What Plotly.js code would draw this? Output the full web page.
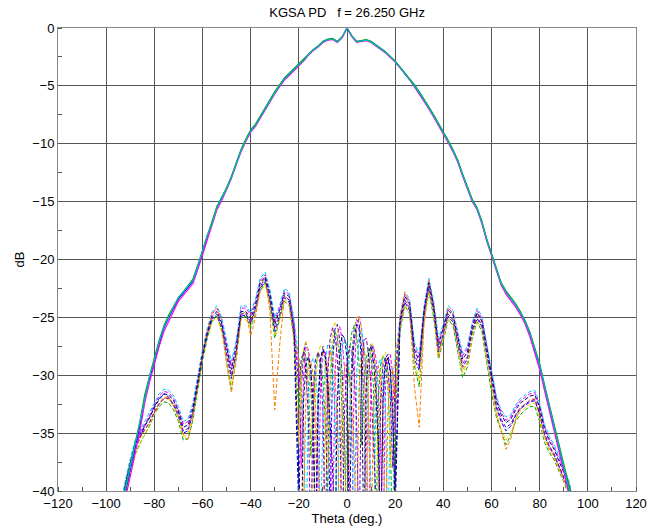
<!DOCTYPE html>
<html>
<head>
<meta charset="utf-8">
<script src="https://cdn.plot.ly/plotly-3.0.1.min.js"></script>
<style>html,body{margin:0;padding:0;background:#fff;}#chart{width:663px;height:530px;}</style>
</head>
<body>
<div id="chart"></div>
<script>
// Theta grid (deg.) for co-polar cuts
const thetaCoLeft  = [-96,-94,-92,-90,-88,-86,-84,-82,-80,-78,-76,-74,-72,-70,-68,-66,-64,-62,-60,-58,-56,-54,-52,-50,-48,-46,-44,-42,-40,-38,-36,-34,-32,-30,-28,-26,-24,-22];
const thetaCoMid   = [-20,-18,-16,-14,-12,-10,-8,-6,-4,-2,0,2,4,6,8,10,12,14,16,18,20];
const thetaRight   = [22,24,26,28,30,32,34,36,38,40,42,44,46,48,50,52,54,56,58,60,62,64,66,68,70,72,74,76,78,80,82,84,86,88,90,92,94,96];
// Theta grid for cross-polar cuts (finer in the main-beam region)
const thetaXpMid   = [-20,-19,-18,-17,-16,-15,-14,-13,-12,-11,-10,-9,-8,-7,-6,-5,-4,-3,-2,-1,0,1,2,3,4,5,6,7,8,9,10,11,12,13,14,15,16,17,18,19,20];

// Co-polar cuts (dB)
const co1 = [
  -44,-42,-40.3,-38.3,-36.2,-34.4,-32.0,-30.3,-28.8,-27.2,-25.9,-25.0,-24.2,-23.4,-22.9,-22.4,-21.9,-20.7,-19.5,-18.0,-16.9,-15.5,-14.7,-13.9,-12.9,-11.7,-10.6,-9.7,-8.9,-8.4,-7.7,-7.0,-6.2,-5.6,-5.0,-4.4,-4.0,-3.6,
  -3.2,-2.8,-2.3,-1.9,-1.6,-1.2,-1.0,-0.95,-1.2,-0.8,0,-0.7,-1.2,-1.15,-1.05,-1.2,-1.5,-1.75,-2.1,-2.5,-2.9,
  -3.4,-3.9,-4.4,-5.0,-5.6,-6.2,-6.9,-7.6,-8.3,-9.1,-9.8,-10.6,-11.5,-12.7,-13.9,-14.9,-15.6,-16.8,-18.3,-19.6,-21.0,-22.1,-22.8,-23.3,-23.9,-24.6,-25.4,-26.5,-27.8,-29.2,-31.0,-32.7,-34.4,-36.2,-38.0,-39.8,-41.5,-43];
const co2 = [
  -43.5,-41.6,-39.8,-37.9,-35.9,-34.0,-31.7,-30.0,-28.5,-27.0,-25.7,-24.8,-24.0,-23.3,-22.8,-22.3,-21.7,-20.5,-19.2,-17.9,-16.8,-15.4,-14.6,-13.8,-12.8,-11.6,-10.5,-9.6,-8.8,-8.3,-7.6,-6.9,-6.1,-5.5,-4.9,-4.3,-3.9,-3.5,
  -3.1,-2.7,-2.25,-1.85,-1.55,-1.15,-0.95,-0.9,-1.15,-0.75,0,-0.65,-1.15,-1.1,-1.0,-1.15,-1.45,-1.7,-2.05,-2.45,-2.85,
  -3.35,-3.85,-4.35,-4.9,-5.5,-6.1,-6.8,-7.5,-8.2,-9.0,-9.7,-10.5,-11.4,-12.6,-13.8,-14.8,-15.5,-16.7,-18.2,-19.5,-20.9,-22.0,-22.7,-23.2,-23.8,-24.5,-25.3,-26.3,-27.6,-29.0,-30.8,-32.5,-34.2,-36.0,-37.8,-39.5,-41.2,-42.8];
const co3 = [
  -44.6,-42.6,-40.8,-38.8,-36.6,-34.8,-32.4,-30.6,-29.1,-27.5,-26.2,-25.3,-24.5,-23.6,-23.1,-22.6,-22.1,-20.9,-19.6,-18.2,-17.0,-15.7,-14.9,-14.0,-13.0,-11.8,-10.7,-9.8,-9.0,-8.5,-7.8,-7.1,-6.3,-5.7,-5.1,-4.5,-4.1,-3.7,
  -3.3,-2.85,-2.35,-1.95,-1.65,-1.25,-1.05,-1.0,-1.25,-0.85,0,-0.75,-1.25,-1.2,-1.1,-1.25,-1.55,-1.8,-2.15,-2.55,-2.95,
  -3.45,-3.95,-4.45,-5.1,-5.7,-6.3,-7.0,-7.7,-8.4,-9.2,-9.9,-10.7,-11.6,-12.8,-14.0,-15.0,-15.7,-16.9,-18.4,-19.7,-21.1,-22.2,-23.0,-23.5,-24.1,-24.8,-25.6,-26.7,-28.0,-29.5,-31.3,-33.0,-34.7,-36.5,-38.3,-40.1,-41.8,-43.4];
const co4 = [
  -43.8,-41.8,-40.0,-38.0,-36.0,-34.1,-31.8,-30.1,-28.7,-27.1,-25.8,-24.9,-24.1,-23.3,-22.8,-22.3,-21.8,-20.6,-19.3,-17.9,-16.9,-15.5,-14.7,-13.9,-12.9,-11.7,-10.6,-9.7,-8.9,-8.4,-7.7,-7.0,-6.2,-5.6,-5.0,-4.4,-4.0,-3.6,
  -3.2,-2.8,-2.3,-1.9,-1.6,-1.2,-1.0,-0.95,-1.2,-0.8,0,-0.7,-1.2,-1.15,-1.05,-1.2,-1.5,-1.75,-2.1,-2.5,-2.9,
  -3.4,-3.9,-4.4,-5.0,-5.6,-6.2,-6.9,-7.6,-8.3,-9.1,-9.8,-10.6,-11.5,-12.7,-13.9,-14.9,-15.6,-16.8,-18.3,-19.6,-21.0,-22.1,-22.8,-23.3,-23.9,-24.6,-25.4,-26.4,-27.7,-29.1,-30.9,-32.6,-34.3,-36.1,-37.9,-39.7,-41.4,-43];

// Cross-polar cuts (dB): left part, main-beam part (1 deg.), right part
const xp1 = [
  -45,-42.5,-40,-38.2,-36.5,-35.4,-34.4,-33.6,-32.7,-32.0,-31.6,-31.9,-32.6,-33.6,-35.0,-34.8,-33.3,-30.9,-28.5,-26.6,-25.2,-24.9,-26.0,-28.3,-30.3,-28.1,-24.9,-24.8,-25.6,-24.3,-22.5,-21.9,-23.6,-26.4,-25.0,-23.3,-23.7,-26.6,
  -42,-31,-28,-27.2,-28,-31,-36,-45,-33,-28.8,-27.5,-28.5,-32,-42,-29,-26,-25.6,-27,-30,-36,-45,-34,-28.5,-26,-25.2,-25.5,-27.5,-32,-44,-30,-27.3,-27.8,-30,-35,-45,-31,-28.5,-28.2,-29.5,-34,-40,
  -25.8,-23.7,-24.4,-28.6,-29.6,-24.9,-22.5,-24.6,-28.0,-26.6,-24.9,-25.4,-27.5,-29.3,-28.6,-26.4,-25.1,-25.8,-28.2,-30.6,-32.8,-34.0,-34.8,-34.4,-33.5,-32.9,-32.6,-32.3,-32.2,-33.4,-35.2,-36.2,-36.9,-37.9,-38.9,-40.0,-42,-44.5];
const xp2 = [
  -44,-41.5,-39.2,-37.4,-35.9,-35.0,-34.2,-33.5,-32.5,-31.8,-31.4,-31.5,-32.0,-33.0,-34.2,-34.0,-32.6,-30.2,-28.0,-26.1,-24.7,-24.2,-25.2,-27.4,-29.2,-27.3,-24.2,-24.2,-24.8,-23.6,-21.8,-21.3,-22.8,-25.3,-24.2,-22.7,-23.0,-25.5,
  -30,-38,-30,-27.5,-27.8,-29.5,-32,-35,-44,-31,-28,-28,-30,-35,-45,-30,-26.5,-25.8,-27,-29.5,-33,-38,-45,-30,-26,-24.9,-25.8,-28.5,-34,-45,-30,-27.5,-28.5,-31,-36,-45,-31,-28.5,-28.2,-30,-35,
  -25.1,-23.0,-23.6,-27.5,-28.5,-24.2,-21.8,-23.8,-27.1,-25.8,-24.2,-24.6,-26.6,-28.3,-27.7,-25.6,-24.4,-25.1,-27.4,-29.8,-32.0,-33.2,-33.9,-33.6,-32.8,-32.2,-31.9,-31.6,-31.5,-32.6,-34.4,-35.5,-36.2,-37.2,-38.3,-39.2,-41,-43.5];
const xp3 = [
  -45.5,-42.8,-40.3,-38.5,-36.8,-35.9,-35.2,-34.4,-33.4,-32.7,-32.3,-32.4,-33.0,-34.0,-35.6,-35.5,-33.9,-31.2,-28.8,-26.8,-25.3,-24.8,-26.1,-28.8,-31.2,-28.6,-25.0,-24.9,-25.9,-24.6,-22.7,-22.0,-23.9,-26.8,-25.3,-23.6,-24.0,-27.0,
  -33,-29.5,-27.8,-28.5,-31,-37,-33,-29.5,-28,-28.5,-30.5,-34,-40,-31,-27.5,-26.2,-26.8,-29,-33,-45,-32,-28,-26.3,-25.7,-26.5,-29,-36,-31,-28.6,-27.6,-28.2,-31,-45,-32,-29,-28.3,-28.8,-31,-36,-45,-33,
  -26.2,-24.0,-24.7,-29.2,-31.0,-25.3,-22.8,-25.0,-28.6,-27.0,-25.2,-25.7,-28.0,-30.2,-29.3,-26.8,-25.4,-26.2,-28.9,-31.5,-33.6,-34.9,-36.0,-35.2,-34.0,-33.4,-33.0,-32.7,-32.7,-34.0,-35.8,-36.7,-37.3,-38.3,-39.2,-40.3,-42.5,-45];
const xp4 = [
  -43.5,-41.2,-39.0,-37.2,-35.6,-34.8,-34.0,-33.2,-32.3,-31.6,-31.2,-31.3,-31.8,-32.7,-34.0,-33.8,-32.4,-30.0,-27.8,-25.9,-24.5,-24.0,-25.0,-27.0,-28.8,-27.0,-24.0,-24.0,-24.6,-23.4,-21.6,-21.1,-22.6,-25.0,-24.0,-22.5,-22.8,-25.2,
  -29,-30.5,-34,-45,-32,-29,-28.5,-29.5,-33,-45,-33,-29,-27.3,-27.6,-29.5,-33,-45,-31,-27.5,-26.8,-27.5,-30,-35,-45,-30,-26.5,-26,-27.2,-30,-34,-40,-45,-32,-29,-28.6,-29.8,-33,-45,-32,-29.5,-29,
  -24.9,-22.8,-23.4,-27.2,-28.2,-24.0,-21.6,-23.6,-26.8,-25.6,-24.0,-24.4,-26.4,-28.1,-27.5,-25.4,-24.2,-24.9,-27.2,-29.6,-31.8,-33.0,-33.6,-33.4,-32.6,-32.0,-31.7,-31.4,-31.3,-32.4,-34.2,-35.3,-36.0,-37.0,-38.1,-39.0,-40.8,-43];
const xp5 = [
  -46,-43,-40.5,-38.7,-37.0,-36.0,-35.1,-34.3,-33.3,-32.5,-32.0,-32.1,-32.7,-33.7,-35.3,-35.0,-33.5,-31.0,-28.6,-26.7,-25.4,-25.0,-26.3,-28.6,-30.8,-28.4,-25.2,-25.2,-25.8,-24.5,-22.8,-22.2,-23.8,-26.6,-25.2,-23.5,-23.9,-26.8,
  -36,-30,-27.6,-27,-28.3,-31.5,-45,-31,-28.2,-27.4,-27.6,-29.5,-38,-29.5,-26.3,-25.4,-26,-28,-31.5,-37,-45,-35,-29.5,-26.5,-25.0,-24.9,-26.2,-29.5,-45,-30,-27.2,-27.5,-30.5,-40,-31,-28.3,-28,-29.5,-38,-31,-28,
  -26.0,-23.9,-24.6,-28.9,-30.4,-25.2,-22.7,-24.8,-28.3,-26.8,-25.1,-25.6,-27.8,-29.8,-29.0,-26.6,-25.3,-26.0,-28.6,-31.1,-33.3,-34.7,-35.6,-35.0,-33.8,-33.1,-32.8,-32.5,-32.4,-33.7,-35.5,-36.5,-37.1,-38.1,-39.0,-40.1,-42.2,-44.8];
const xp6 = [
  -44.5,-42,-39.8,-38.0,-36.4,-35.5,-34.8,-34.0,-33.1,-32.4,-31.9,-31.9,-32.5,-33.5,-35.2,-35.6,-33.6,-30.8,-28.3,-26.2,-24.6,-24.2,-25.8,-29.0,-31.5,-28.5,-24.8,-24.5,-26.6,-25.0,-22.4,-21.5,-24.5,-33.0,-27.5,-23.2,-23.5,-26.8,
  -28.5,-31,-42,-31.5,-29,-28.8,-30,-33,-38,-41,-45,-33,-29,-28,-28.5,-30,-34,-45,-32,-29.3,-29,-30,-32.5,-37,-45,-31,-28.3,-27.7,-29,-33,-45,-33,-29.8,-29.2,-30.5,-34,-45,-33,-30,-29.5,-32,
  -25.0,-22.8,-24.2,-31.0,-34.5,-25.5,-21.8,-24.0,-28.5,-26.5,-24.2,-24.7,-27.3,-29.5,-28.9,-26.2,-24.6,-25.4,-28.0,-30.8,-33.2,-34.8,-36.4,-35.5,-33.8,-32.9,-32.5,-32.1,-32.0,-33.3,-35.2,-36.3,-37.0,-38.0,-39.0,-40.0,-42,-44.5];
const xp7 = [
  -45,-42.2,-39.6,-37.9,-36.3,-35.3,-34.7,-34.1,-33.2,-32.5,-32.0,-32.0,-32.5,-33.3,-34.8,-34.6,-33.2,-30.8,-28.4,-26.5,-25.1,-24.7,-25.7,-28.0,-30.0,-28.0,-24.7,-24.7,-25.4,-24.2,-22.3,-21.7,-23.4,-26.0,-24.8,-23.1,-23.5,-26.3,
  -31,-28.6,-28,-29.5,-34,-45,-31.5,-28.6,-28,-29.2,-33,-45,-30,-26.8,-25.9,-26.5,-28.5,-33,-45,-33,-29,-27.5,-27.8,-30,-34,-45,-30,-27,-26.8,-28.2,-31,-36,-40,-45,-32,-29,-28.5,-29.6,-32,-38,-30,
  -25.6,-23.5,-24.2,-28.2,-29.3,-24.7,-22.3,-24.4,-27.8,-26.4,-24.7,-25.2,-27.2,-29.0,-28.4,-26.1,-24.9,-25.7,-28.0,-30.4,-32.6,-33.8,-34.5,-34.2,-33.4,-32.8,-32.5,-32.2,-32.1,-33.2,-35.0,-36.1,-36.8,-37.8,-38.8,-39.8,-41.8,-44.2];
const xp8 = [
  -44.8,-42.0,-39.4,-37.6,-36.0,-35.1,-34.4,-33.7,-32.8,-32.1,-31.6,-31.7,-32.2,-33.1,-34.5,-34.3,-32.9,-30.5,-28.2,-26.3,-24.9,-24.5,-25.5,-27.6,-29.5,-27.6,-24.5,-24.5,-25.1,-23.9,-22.0,-21.5,-23.0,-25.6,-24.4,-22.9,-23.2,-25.8,
  -38,-45,-32,-29,-28.4,-29.5,-33,-45,-32,-28.6,-27.8,-28.4,-30.5,-34,-38,-45,-32,-28,-26.5,-26.8,-28.5,-45,-30,-27,-25.6,-26,-28.7,-45,-31,-28,-27.5,-28.8,-31.5,-36,-45,-32,-29,-28.5,-29.8,-33,-42,
  -25.3,-23.2,-23.8,-27.8,-28.8,-24.4,-22.0,-24.0,-27.4,-26.0,-24.4,-24.8,-26.8,-28.6,-28.0,-25.8,-24.6,-25.3,-27.6,-30.0,-32.2,-33.4,-34.1,-33.8,-33.0,-32.4,-32.1,-31.8,-31.7,-32.8,-34.6,-35.7,-36.4,-37.4,-38.4,-39.4,-41.2,-43.8];

const titleText = 'KGSA PD   f = 26.250 GHz';
const xTitle = 'Theta (deg.)';
const yTitle = 'dB';
const xTickVals = [-120,-100,-80,-60,-40,-20,0,20,40,60,80,100,120];
const yTickVals = [-40,-35,-30,-25,-20,-15,-10,-5,0];

const thetaCo = thetaCoLeft.concat(thetaCoMid, thetaRight);
const thetaXp = thetaCoLeft.concat(thetaXpMid, thetaRight);
const coCuts = [co1, co2, co3, co4];
const xpCuts = [xp1, xp2, xp3, xp4, xp5, xp6, xp7, xp8];
const coColors = ['#0000ff', '#00a000', '#ff00ff', '#00b8b8'];
const xpColors = ['#0000ff', '#ff00ff', '#00b000', '#00c8ff', '#f0d000', '#ff8000', '#8000c0', '#000080'];

coCuts.forEach((a, i) => { if (a.length !== thetaCo.length) throw new Error('co length mismatch ' + i + ': ' + a.length); });
xpCuts.forEach((a, i) => { if (a.length !== thetaXp.length) throw new Error('xp length mismatch ' + i + ': ' + a.length); });

const traces = [];
xpCuts.forEach((y, i) => traces.push({
  x: thetaXp, y: y, type: 'scatter', mode: 'lines',
  line: {color: xpColors[i], width: 1, dash: '4px,2px'}, hoverinfo: 'skip'
}));
coCuts.forEach((y, i) => traces.push({
  x: thetaCo, y: y, type: 'scatter', mode: 'lines',
  line: {color: coColors[i], width: 1.2}, hoverinfo: 'skip'
}));

const fontFam = '"Liberation Sans", Arial, sans-serif';
const layout = {
  width: 663, height: 530,
  margin: {l: 58, r: 27, t: 28, b: 39},
  paper_bgcolor: '#ffffff', plot_bgcolor: '#ffffff',
  showlegend: false,
  font: {family: fontFam, size: 13, color: '#000'},
  title: {text: titleText, x: 0.5235, xanchor: 'center', y: 0.977, yanchor: 'middle', font: {family: fontFam, size: 13, color: '#000'}},
  xaxis: {
    range: [-120, 120], tickvals: xTickVals, ticks: '', showgrid: true, gridcolor: '#555555', gridwidth: 1,
    showline: true, mirror: true, linecolor: '#888888', linewidth: 1, zeroline: false,
    tickfont: {family: fontFam, size: 13, color: '#000'},
    minor: {dtick: 10, ticks: 'inside', ticklen: 4, tickcolor: '#555', showgrid: false},
    title: {text: xTitle, standoff: 2, font: {family: fontFam, size: 13, color: '#000'}}
  },
  yaxis: {
    range: [-40, 0], tickvals: yTickVals, ticks: '', showgrid: true, gridcolor: '#555555', gridwidth: 1,
    showline: true, mirror: true, linecolor: '#888888', linewidth: 1, zeroline: false,
    tickfont: {family: fontFam, size: 13, color: '#000'},
    minor: {dtick: 2.5, ticks: 'inside', ticklen: 4, tickcolor: '#555', showgrid: false},
    title: {text: yTitle, standoff: 4, font: {family: fontFam, size: 13, color: '#000'}}
  }
};

Plotly.newPlot('chart', traces, layout, {staticPlot: true, displayModeBar: false});
</script>
</body>
</html>
